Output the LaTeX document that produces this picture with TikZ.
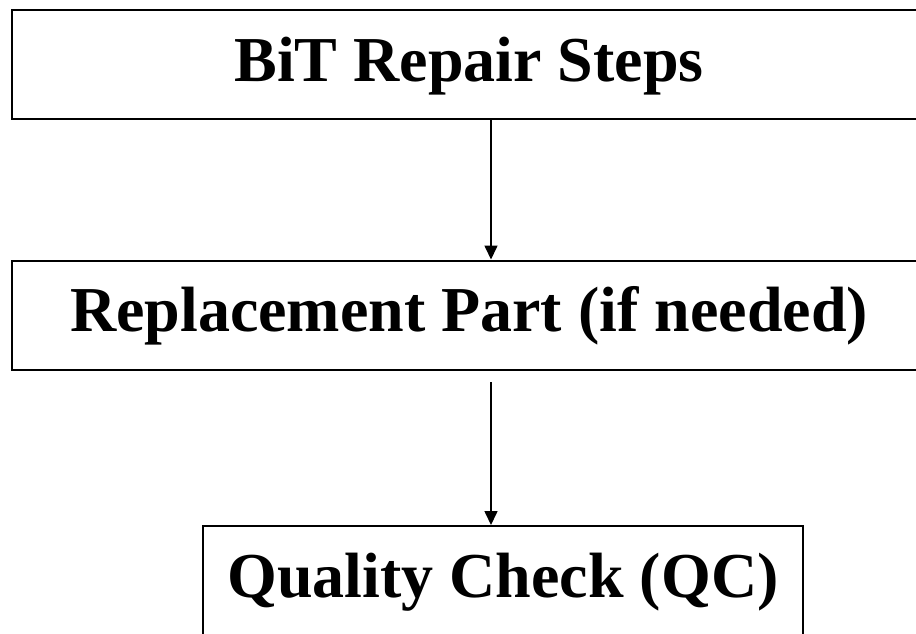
\documentclass[tikz,border=0pt]{standalone}
\usepackage{fontspec}
\setmainfont{Liberation Serif}
\usetikzlibrary{arrows.meta}
\begin{document}
\begin{tikzpicture}[x=1pt,y=-1pt,
  box/.style={draw, line width=2pt, inner sep=0pt, minimum height=109pt,
    text height=45pt, text depth=12pt, font=\fontsize{64}{64}\selectfont\bfseries},
  conn/.style={line width=1.6pt, -{Triangle[length=14pt,width=13pt]}}]
\useasboundingbox (0,0) rectangle (916,633);
\node[box, minimum width=914pt] (b1) at (469,64.5) {BiT Repair Steps};
\node[box, minimum width=914pt] (b2) at (469,315) {Replacement Part (if needed)};
\node[box, minimum width=600pt] (b3) at (503,580.5) {Quality Check (QC)};
\coordinate (ax) at (491,0);
\coordinate (s2) at (491,382);
\draw[conn] (b1.south -| ax) -- (b2.north -| ax);
\draw[conn] (s2) -- (b3.north -| ax);
\end{tikzpicture}
\end{document}
